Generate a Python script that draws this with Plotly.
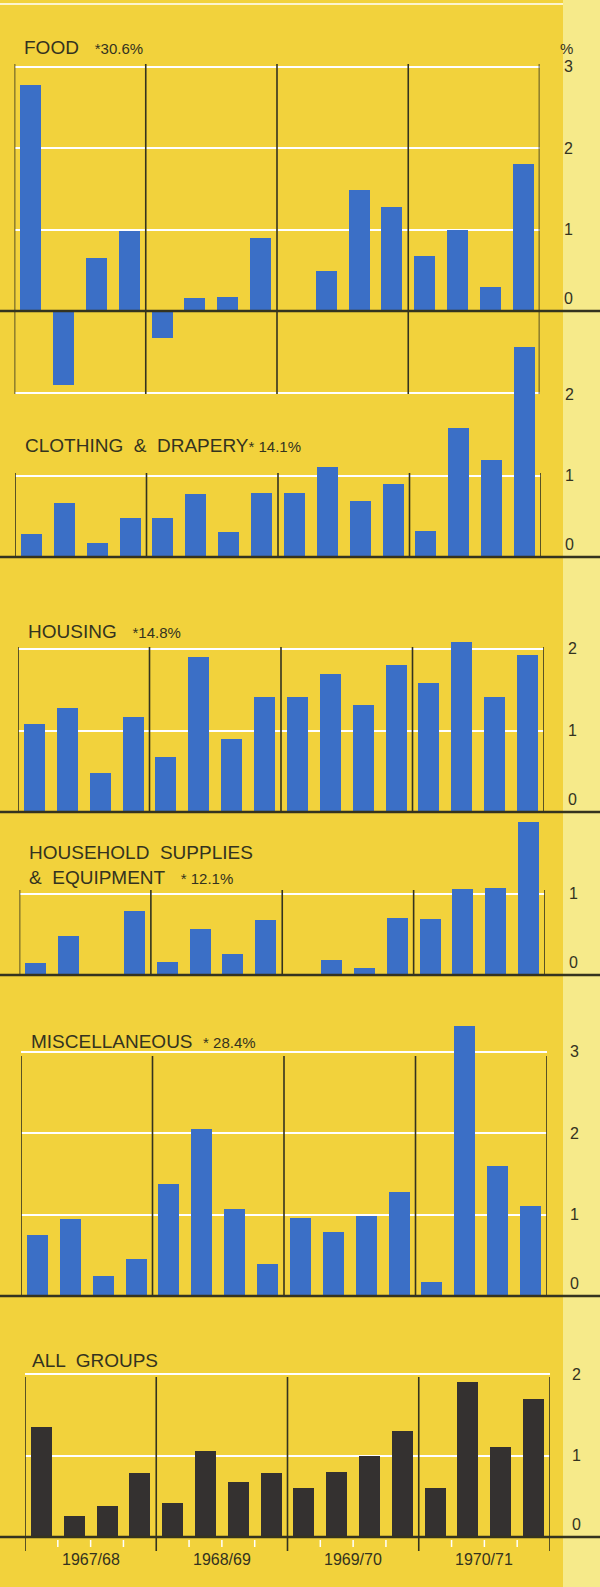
import plotly.graph_objects as go

# quarterly % change, 4 quarters x 4 years (1967/68 .. 1970/71)
years = ['1967/68', '1968/69', '1969/70', '1970/71']
food = [2.77, -0.91, 0.65, 0.98, -0.33, 0.16, 0.17, 0.89,
        0.0, 0.49, 1.48, 1.28, 0.68, 1.00, 0.30, 1.80]
clothing = [0.28, 0.66, 0.17, 0.48, 0.48, 0.77, 0.31, 0.79,
            0.78, 1.10, 0.69, 0.89, 0.32, 1.58, 1.19, 2.58]
housing = [1.08, 1.28, 0.48, 1.17, 0.67, 1.90, 0.89, 1.41,
           1.41, 1.69, 1.31, 1.80, 1.58, 2.09, 1.41, 1.93]
household = [0.15, 0.48, 0.0, 0.78, 0.16, 0.56, 0.26, 0.68,
             0.0, 0.18, 0.09, 0.70, 0.69, 1.06, 1.07, 1.88]
misc = [0.75, 0.95, 0.24, 0.45, 1.37, 2.05, 1.07, 0.39,
        0.96, 0.78, 0.98, 1.28, 0.17, 3.31, 1.59, 1.10]
all_groups = [1.35, 0.26, 0.38, 0.79, 0.42, 1.05, 0.68, 0.79,
              0.60, 0.80, 0.99, 1.30, 0.60, 1.90, 1.10, 1.69]

S = '<span style="font-size:15px">'
panels = [
    # title, values, ticks, grid, colour, layout pixels
    dict(title='FOOD   ' + S + '*30.6%</span>', v=food, ticks=[0, 1, 2, 3], grid=[-1, 1, 2, 3],
         col='#3b6fc6', zero=311, top=60, bot=400, dtop=64, dbot=394, x0=14.5, x1=539.5,
         ty=48, tx=22, lx=575),
    dict(title='CLOTHING  &  DRAPERY' + S + '* 14.1%</span>', v=clothing, ticks=[0, 1, 2], grid=[1],
         col='#3b6fc6', zero=557, top=340, bot=565, dtop=473, dbot=557, x0=15, x1=541,
         ty=446, tx=23, lx=576),
    dict(title='HOUSING   ' + S + '*14.8%</span>', v=housing, ticks=[0, 1, 2], grid=[1, 2],
         col='#3b6fc6', zero=812, top=640, bot=820, dtop=647, dbot=812, x0=18, x1=544,
         ty=632, tx=26, lx=579),
    dict(title='HOUSEHOLD  SUPPLIES<br>&  EQUIPMENT   ' + S + '* 12.1%</span>', v=household,
         ticks=[0, 1], grid=[1],
         col='#3b6fc6', zero=975, top=800, bot=985, dtop=890, dbot=975, x0=19.5, x1=545,
         ty=865, tx=27, lx=580),
    dict(title='MISCELLANEOUS  ' + S + '* 28.4%</span>', v=misc, ticks=[0, 1, 2, 3], grid=[1, 2, 3],
         col='#3b6fc6', zero=1296, top=1020, bot=1305, dtop=1056, dbot=1296, x0=21, x1=547,
         ty=1041, tx=29, lx=581),
    dict(title='ALL  GROUPS', v=all_groups, ticks=[0, 1, 2], grid=[1, 2],
         col='#343130', zero=1537, top=1340, bot=1560, dtop=1377, dbot=1551, x0=25, x1=550,
         ty=1360, tx=30, lx=583),
]

W, H, U = 600, 1587, 81.5
INK = '#34331f'
fig = go.Figure()
shapes, annos = [], []
xpos = [q + 0.5 for q in range(16)]

# light strip on the right
shapes.append(dict(type='rect', xref='paper', yref='paper', x0=563 / W, x1=1, y0=0, y1=1,
                   fillcolor='#f6ea8a', line_width=0, layer='below'))
shapes.append(dict(type='line', xref='paper', yref='paper', x0=0, x1=563 / W, y0=1 - 4 / H, y1=1 - 4 / H,
                   line=dict(color='white', width=1.5), layer='below'))

for i, p in enumerate(panels, start=1):
    xa, ya = f'x{i}', f'y{i}'
    fig.add_trace(go.Bar(x=xpos, y=p['v'], width=0.64, marker=dict(color=p['col'], line_width=0),
                         xaxis=xa, yaxis=ya, showlegend=False, hoverinfo='skip'))
    rng = [(p['zero'] - p['bot']) / U, (p['zero'] - p['top']) / U]
    key = '' if i == 1 else str(i)
    fig.layout['xaxis' + key] = dict(domain=[p['x0'] / W, p['x1'] / W], range=[0, 16], visible=False,
                                     anchor=ya)
    fig.layout['yaxis' + key] = dict(domain=[1 - p['bot'] / H, 1 - p['top'] / H], range=rng,
                                     anchor=xa, tickvals=p['grid'], showticklabels=False,
                                     showgrid=True, gridcolor='white', gridwidth=2,
                                     zeroline=False, showline=False, ticks='')
    # year dividers
    for k in range(5):
        shapes.append(dict(type='line', xref=xa, yref='paper', x0=4 * k, x1=4 * k,
                           y0=1 - p['dbot'] / H, y1=1 - p['dtop'] / H,
                           line=dict(color=INK, width=1.6)))
    # zero line across whole page
    shapes.append(dict(type='line', xref='paper', yref=ya, x0=0, x1=1, y0=0, y1=0,
                       line=dict(color=INK, width=2.5)))
    for t in p['ticks']:
        annos.append(dict(xref='paper', yref=ya, x=p['lx'] / W, y=t, text=str(t), showarrow=False,
                          yanchor='bottom' if t == 0 else 'middle', yshift=2 if t == 0 else 0,
                          font=dict(size=16, color=INK)))
    annos.append(dict(xref='paper', yref='paper', x=p['tx'] / W, y=1 - p['ty'] / H, text=p['title'],
                      showarrow=False, xanchor='left', yanchor='middle', align='left',
                      font=dict(size=19, color=INK)))

annos.append(dict(xref='paper', yref='paper', x=575 / W, y=1 - 38 / H, text='%', showarrow=False,
                  font=dict(size=15, color=INK)))

# quarter ticks and year labels under last panel
for k in range(4):
    for q in range(1, 4):
        shapes.append(dict(type='line', xref='x6', yref='paper', x0=4 * k + q, x1=4 * k + q,
                           y0=1 - 1547 / H, y1=1 - 1540 / H, line=dict(color='white', width=1.5)))
    annos.append(dict(xref='x6', yref='paper', x=4 * k + 2, y=1 - 1570 / H, text=years[k],
                      showarrow=False, font=dict(size=16, color=INK)))

fig.update_layout(width=W, height=H, margin=dict(l=0, r=0, t=0, b=0),
                  paper_bgcolor='#f2d23c', plot_bgcolor='rgba(0,0,0,0)',
                  font=dict(family='Liberation Sans, Arial, sans-serif'),
                  shapes=shapes, annotations=annos, bargap=0)
fig.write_html('out.html', config={'displayModeBar': False, 'staticPlot': True},
               post_script="document.body.style.margin='0';document.body.style.overflow='hidden';")
